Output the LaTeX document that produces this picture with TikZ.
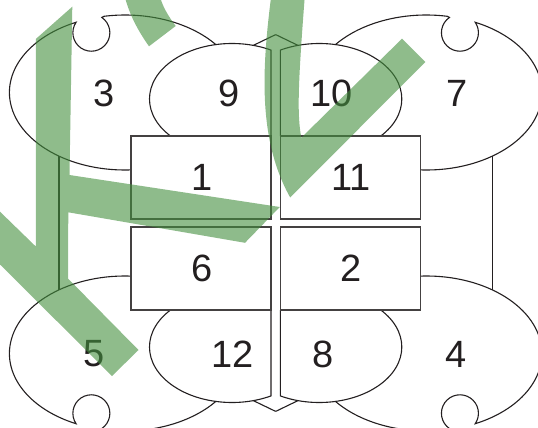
\documentclass[tikz,border=0pt]{standalone}
\usepackage{fontspec}
\setmainfont{Liberation Sans}
\definecolor{ink}{RGB}{35,31,32}
\definecolor{markgreen}{RGB}{68,143,62}
\tikzset{
  outline/.style={draw=ink,line width=1.1pt,line join=miter},
  num/.style={font=\fontsize{38}{38}\selectfont,text=ink,inner sep=0pt},
  box/.style={draw=ink!85,line width=1.4pt,fill=white,minimum width=140pt,minimum height=83pt,inner sep=0pt,font=\fontsize{38}{38}\selectfont,text=ink,execute at begin node={\kern2pt}},
  greenmark/.style={fill=markgreen,fill opacity=0.6,draw=none}
}
\newcommand{\quadrant}{%
  % big lobe with its round notch
  \draw[outline] (134.98,169.7)
    arc[start angle=85,end angle=245,x radius=115.5pt,y radius=77.5pt]
    arc[start angle=214.4,end angle=-55.6,radius=18.5pt]
    -- (104,16.3)
    arc[start angle=259.5,end angle=322,x radius=115.5pt,y radius=77.5pt];
  % small lobe and its straight side
  \draw[outline] (173.66,138.24)
    arc[start angle=135,end angle=298.2,x radius=82.5pt,y radius=55.5pt]
    -- (271,136);
  % half of the pointed cap
  \draw[outline] (253.3,45.4) -- (275.65,34.6);
}
\begin{document}
\begin{tikzpicture}[x=1pt,y=1pt,yscale=-1]
\path[use as bounding box,clip] (0,0) rectangle (538,428);
\quadrant
\begin{scope}[shift={(551.3,0)},xscale=-1]\quadrant\end{scope}
\begin{scope}[shift={(0,446)},yscale=-1]\quadrant\end{scope}
\begin{scope}[shift={(551.3,446)},xscale=-1,yscale=-1]\quadrant\end{scope}
% long side lines
\coordinate (la) at (59,156.1);
\coordinate (lb) at (59,289.9);
\coordinate (ra) at (492.3,156.1);
\coordinate (rb) at (492.3,289.9);
\draw[outline] (la) -- (lb);
\draw[outline] (ra) -- (rb);
% boxes
\node[box] (r1) at (201,177.5) {1};
\node[box] (r11) at (350.3,177.5) {11};
\node[box] (r6) at (201,268.5) {6};
\node[box] (r2) at (350.3,268.5) {2};
% lobe numbers
\node[num] (n3) at (104.5,93) {3};
\node[num] (n9) at (229.5,93) {9};
\node[num] (n10) at (332,93) {10};
\node[num] (n7) at (457.5,93) {7};
\node[num] (n5) at (94.5,354) {5};
\node[num] (n12) at (232.7,354) {12};
\node[num] (n8) at (323.5,354) {8};
\node[num] (n4) at (456.5,354) {4};
% green overlay
\fill[greenmark]
  (72.3,6.7) -- (69.5,175) -- (279.8,207) -- (245,242.8) -- (68.3,212.3) -- (68,278.5)
  -- (138.5,350) -- (112,376) -- (0,264.5) -- (0,211.7) -- (35.8,246.5) -- (35.8,39) -- cycle
  (125.7,0) .. controls (131,18) and (139,32) .. (149,46.3) -- (175.7,26)
  .. controls (169,17) and (164,9) .. (161,0) -- cycle
  (270.7,0) .. controls (262,70) and (258,140) .. (290.2,197.5) -- (425.3,62) -- (402,38.7)
  -- (301.3,137.7) .. controls (297,115) and (298,85) .. (304.5,0) -- cycle;
\end{tikzpicture}
\end{document}
